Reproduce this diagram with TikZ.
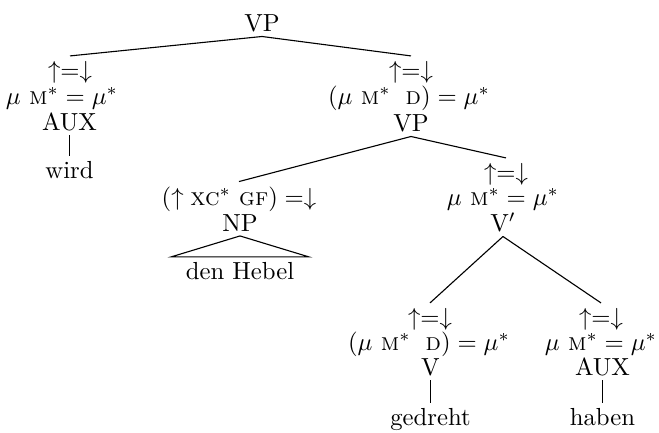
\documentclass[tikz,border=0pt]{standalone}
\begin{document}
\begin{tikzpicture}[x=0.405pt,y=-0.405pt,
  lbl/.style={inner xsep=0pt, inner ysep=2pt, outer sep=0pt, anchor=base},
  edge/.style={line width=0.45pt}]
\useasboundingbox (0,0) rectangle (659,432);
% root
\node[lbl] (vp0) at (262,31) {VP};
% left daughter
\node[lbl] (la) at (70,78) {$\uparrow=\downarrow$};
\node[lbl] (lb) at (62,104) {$\mu\ \textsc{m}^* = \mu^*$};
\node[lbl] (lc) at (69.5,130) {AUX};
\node[lbl] (ld) at (69.5,178) {wird};
% right daughter
\node[lbl] (ra) at (411,78) {$\uparrow=\downarrow$};
\node[lbl] (rb) at (409,104) {$(\mu\ \textsc{m}^*\;\ \textsc{d}) = \mu^*$};
\node[lbl] (rc) at (411,131) {VP};
% NP
\node[lbl] (na) at (239,205) {$(\uparrow \textsc{xc}^*\ \textsc{gf}) =\downarrow$};
\node[lbl] (nb) at (240,231) {NP};
\node[lbl] (nc) at (240,279) {den Hebel};
% V'
\node[lbl] (va) at (506,180) {$\uparrow=\downarrow$};
\node[lbl] (vb) at (503,205) {$\mu\ \textsc{m}^* = \mu^*$};
\node[lbl] (vc) at (503,231) {V$'$};
% V
\node[lbl] (xa) at (430,325) {$\uparrow=\downarrow$};
\node[lbl] (xb) at (429,350) {$(\mu\ \textsc{m}^*\;\ \textsc{d}) = \mu^*$};
\node[lbl] (xc) at (430.5,375) {V};
\node[lbl] (xd) at (430.5,425) {gedreht};
% AUX
\node[lbl] (ya) at (601,325) {$\uparrow=\downarrow$};
\node[lbl] (yb) at (601,350) {$\mu\ \textsc{m}^* = \mu^*$};
\node[lbl] (yc) at (602.5,375) {AUX};
\node[lbl] (yd) at (602.5,425) {haben};
% edges
\draw[edge] (vp0.south) -- (la.north);
\draw[edge] (vp0.south) -- (ra.north);
\draw[edge] (lc.south) -- (ld.north);
\draw[edge] (rc.south) -- (na.north);
\draw[edge] (rc.south) -- (va.north);
\draw[edge] (nb.south) -- ([xshift=-6]nc.north west) -- ([xshift=6]nc.north east) -- cycle;
\draw[edge] (vc.south) -- (xa.north);
\draw[edge] (vc.south) -- (ya.north);
\draw[edge] (xc.south) -- (xd.north);
\draw[edge] (yc.south) -- (yd.north);
\end{tikzpicture}
\end{document}
